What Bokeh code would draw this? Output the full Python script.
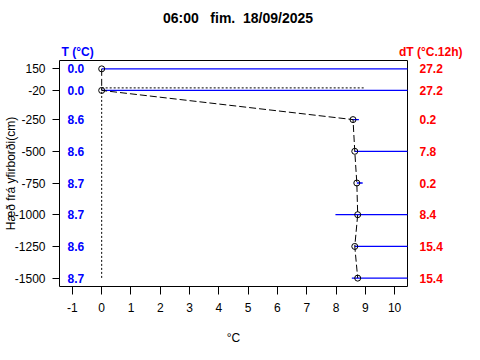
from bokeh.plotting import figure
from bokeh.layouts import column
from bokeh.models import Range1d, FixedTicker, LinearAxis, ColumnDataSource
from bokeh.core.properties import value
from bokeh.embed import file_html
from bokeh.resources import INLINE

# ---- data ----
title_text = "06:00   fim.  18/09/2025"
t_header = "T (°C)"
dt_header = "dT (°C.12h)"
levels = [150, -20, -250, -500, -750, -1000, -1250, -1500]        # cm from surface
temps = [0.0, 0.0, 8.58, 8.64, 8.71, 8.74, 8.64, 8.74]            # current T (°C)
tmin12 = [0.0, 0.0, 8.58, 8.64, 8.71, 7.98, 8.64, 8.54]           # 12h minimum
dT12 = [27.2, 27.2, 0.2, 7.8, 0.2, 8.4, 15.4, 15.4]               # 12h range
x_ticks = list(range(-1, 11))
surface_level = 0
freeze_temp = 0
surface_line_end = 9

FONT = "Liberation Sans"
BLUE = "#0000FF"
RED = "#FF0000"
W = 480
HEAD_H = 60
MAIN_H = 300

# ---------- header strip (title + column headers) ----------
head = figure(width=W, height=HEAD_H, output_backend="svg", toolbar_location=None,
              x_range=Range1d(0, W), y_range=Range1d(HEAD_H, 0),
              x_axis_type=None, y_axis_type=None, min_border=0)
head.frame_align = False
head.outline_line_color = None
head.background_fill_color = "white"
head.border_fill_color = "white"
head.xgrid.visible = False
head.ygrid.visible = False
head.text(x=[237.5], y=[17], text=[title_text.replace(" ", "\u00a0")], text_align="center",
          text_baseline="middle", text_color="black", text_font=value(FONT),
          text_font_size="14px", text_font_style="bold")
head.text(x=[61], y=[51], text=[t_header], text_align="left",
          text_baseline="middle", text_color=BLUE, text_font=value(FONT),
          text_font_size="12px", text_font_style="bold")
head.text(x=[462], y=[51], text=[dt_header], text_align="right",
          text_baseline="middle", text_color=RED, text_font=value(FONT),
          text_font_size="12px", text_font_style="bold")

# ---------- main plot ----------
xmin, xmax = -1, 10
ymin, ymax = -1500, 150
xpad = (xmax - xmin) * 0.04
ypad = (ymax - ymin) * 0.04
x0, x1 = xmin - xpad, xmax + xpad
y0, y1 = ymin - ypad, ymax + ypad

p = figure(width=W, height=MAIN_H, output_backend="svg", toolbar_location=None,
           x_range=Range1d(x0, x1), y_range=Range1d(y0, y1),
           min_border_left=59, min_border_right=73, min_border_top=0, min_border_bottom=74)
p.frame_align = False
p.background_fill_color = "white"
p.border_fill_color = "white"
p.outline_line_color = "black"
p.outline_line_width = 1
p.xgrid.visible = False
p.ygrid.visible = False

# axes
xa = p.xaxis[0]
xa.ticker = FixedTicker(ticks=x_ticks)
xa.major_label_overrides = {t: str(t) for t in x_ticks}
xa.axis_line_color = None
xa.major_tick_out = 8
xa.major_tick_in = 0
xa.major_tick_line_color = "black"
xa.minor_tick_line_color = None
xa.major_label_text_font = FONT
xa.major_label_text_font_size = "12px"
xa.major_label_text_color = "black"
xa.major_label_standoff = 8
xa.axis_label = "°C"
xa.axis_label_text_font = FONT
xa.axis_label_text_font_size = "12px"
xa.axis_label_text_font_style = "normal"
xa.axis_label_text_color = "black"
xa.axis_label_standoff = 16

ya = p.yaxis[0]
ya.ticker = FixedTicker(ticks=levels)
ya.major_label_overrides = {lv: str(lv) for lv in levels}
ya.axis_line_color = None
ya.major_tick_out = 7
ya.major_tick_in = 0
ya.major_tick_line_color = "black"
ya.minor_tick_line_color = None
ya.major_label_text_font = FONT
ya.major_label_text_font_size = "12px"
ya.major_label_text_color = "black"
ya.major_label_standoff = 7
ya.axis_label = "Hæð frá yfirborði(cm)"
ya.axis_label_text_font = FONT
ya.axis_label_text_font_size = "12px"
ya.axis_label_text_font_style = "normal"
ya.axis_label_text_color = "black"
ya.axis_label_standoff = -6

ra = LinearAxis(ticker=FixedTicker(ticks=levels))
ra.major_label_overrides = {lv: f"{d:.1f}" for lv, d in zip(levels, dT12)}
ra.axis_line_color = None
ra.major_tick_line_color = None
ra.major_tick_out = 0
ra.major_tick_in = 0
ra.minor_tick_line_color = None
ra.major_label_standoff = 12
ra.major_label_text_color = RED
ra.major_label_text_font = FONT
ra.major_label_text_font_size = "12px"
ra.major_label_text_font_style = "bold"
p.add_layout(ra, "right")

# reference lines
p.line([freeze_temp, freeze_temp], [surface_level, ymin], line_color="black",
       line_width=1, line_dash="2 2")
p.line([freeze_temp, surface_line_end], [surface_level, surface_level], line_color="black",
       line_width=1, line_dash="2 2")

# 12h range bars
tmax12 = [a + b for a, b in zip(tmin12, dT12)]
p.segment(x0=tmin12, y0=levels, x1=tmax12, y1=levels, line_color=BLUE, line_width=1.3)

# profile
p.line(temps, levels, line_color="black", line_width=1, line_dash="7 3")
p.scatter(temps, levels, size=6, marker="circle", fill_color=None,
          line_color="black", line_width=1)

# T labels inside the frame
src = ColumnDataSource(dict(x=[x0] * len(levels), y=levels,
                            t=[f"{t:.1f}" for t in temps]))
p.text(x="x", y="y", text="t", source=src, x_offset=8, text_align="left",
       text_baseline="middle", text_color=BLUE, text_font=value(FONT),
       text_font_size="12px", text_font_style="bold")

layout = column(head, p, spacing=0)
open("out.html", "w").write(file_html(layout, INLINE))
